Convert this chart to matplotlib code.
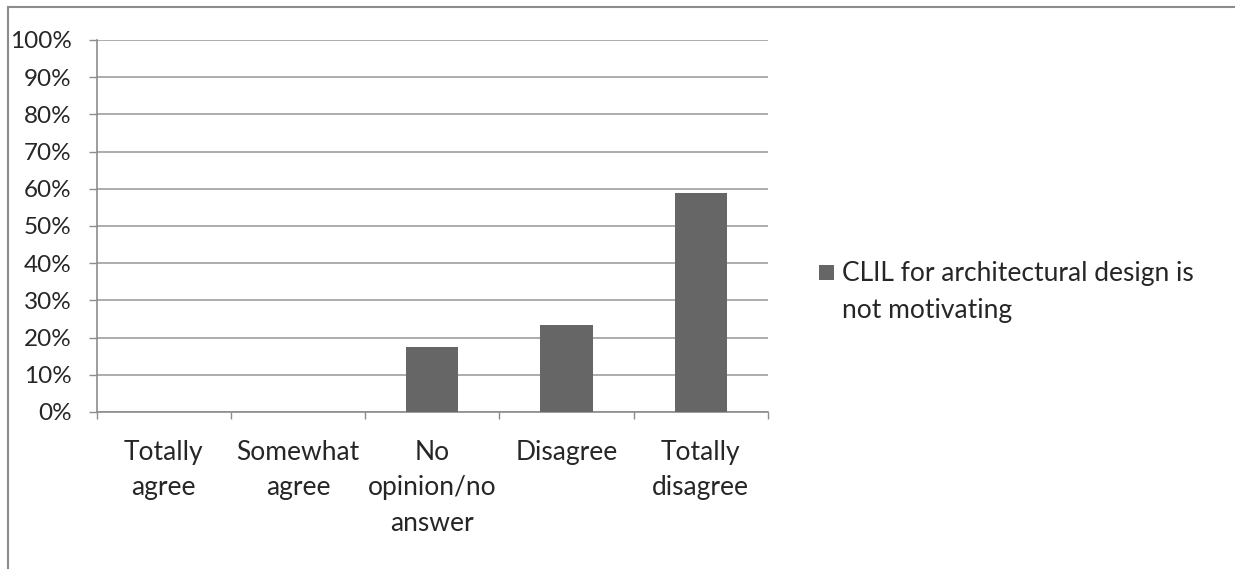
import matplotlib
matplotlib.use("Agg")
import matplotlib.pyplot as plt
from matplotlib.lines import Line2D
from matplotlib.patches import Rectangle
from matplotlib.legend_handler import HandlerPatch

categories = ["Totally\nagree", "Somewhat\nagree", "No\nopinion/no\nanswer", "Disagree", "Totally\ndisagree"]
values = [0.0, 0.0, 17.6, 23.5, 58.8]
series_label = "CLIL for architectural design is\nnot motivating"
y_ticks = [0, 10, 20, 30, 40, 50, 60, 70, 80, 90, 100]
y_tick_labels = [f"{v}%" for v in y_ticks]

plt.rcParams['font.family'] = ['Lato', 'DejaVu Sans']
TXT = '#262626'
FS = 19

W, H = 1235, 569
fig = plt.figure(figsize=(W / 100, H / 100), dpi=100)
fig.patch.set_facecolor('white')

# outer frame (top and left only visible)
fig.add_artist(Line2D([8 / W, 8 / W], [0, 1 - 6.5 / H], transform=fig.transFigure, color='#8c8c8c', lw=1.5))
fig.add_artist(Line2D([8 / W, 1], [1 - 6.5 / H, 1 - 6.5 / H], transform=fig.transFigure, color='#8c8c8c', lw=1.5))

ax = fig.add_axes([96.5 / W, 1 - 412 / H, (768 - 96.5) / W, (412 - 40) / H])
x = list(range(len(categories)))
bars = ax.bar(x, values, width=0.39, color='#666666', label=series_label, zorder=3)

ax.set_xlim(-0.5, len(categories) - 0.5)
ax.set_ylim(0, 100)
ax.set_yticks(y_ticks)
ax.set_yticklabels(y_tick_labels)
ax.yaxis.grid(True, color='#a6a6a6', lw=1.3, zorder=0)

ax.set_xticks(x)
ax.set_xticklabels(categories, linespacing=1.53)
ax.set_xticks([i - 0.5 for i in range(len(categories) + 1)], minor=True)
ax.tick_params(axis='x', which='major', length=0, pad=20, labelsize=FS, labelcolor=TXT)
ax.tick_params(axis='x', which='minor', length=5, width=1, color='#8c8c8c', direction='out')
ax.tick_params(axis='y', length=6, width=1, color='#8c8c8c', pad=12, labelsize=17.5, labelcolor=TXT)

for s in ['top', 'right']:
    ax.spines[s].set_visible(False)
for s in ['left', 'bottom']:
    ax.spines[s].set_color('#8c8c8c')
    ax.spines[s].set_linewidth(1.2)


def top_square(legend, orig_handle, xdescent, ydescent, width, height, fontsize):
    sq = width
    return Rectangle((-xdescent, -ydescent + 14.5), sq, sq)


leg = fig.legend(handles=[bars.patches[0]], labels=[series_label], loc='upper left',
                 bbox_to_anchor=(819 / W, 1 - 261 / H), frameon=False,
                 handlelength=0.58, handleheight=0.55, handletextpad=0.3,
                 borderpad=0, borderaxespad=0, fontsize=FS, labelcolor=TXT,
                 handler_map={Rectangle: HandlerPatch(patch_func=top_square)})
for t in leg.get_texts():
    t.set_linespacing(1.6)

fig.savefig("out.png", dpi=100, facecolor='white')
